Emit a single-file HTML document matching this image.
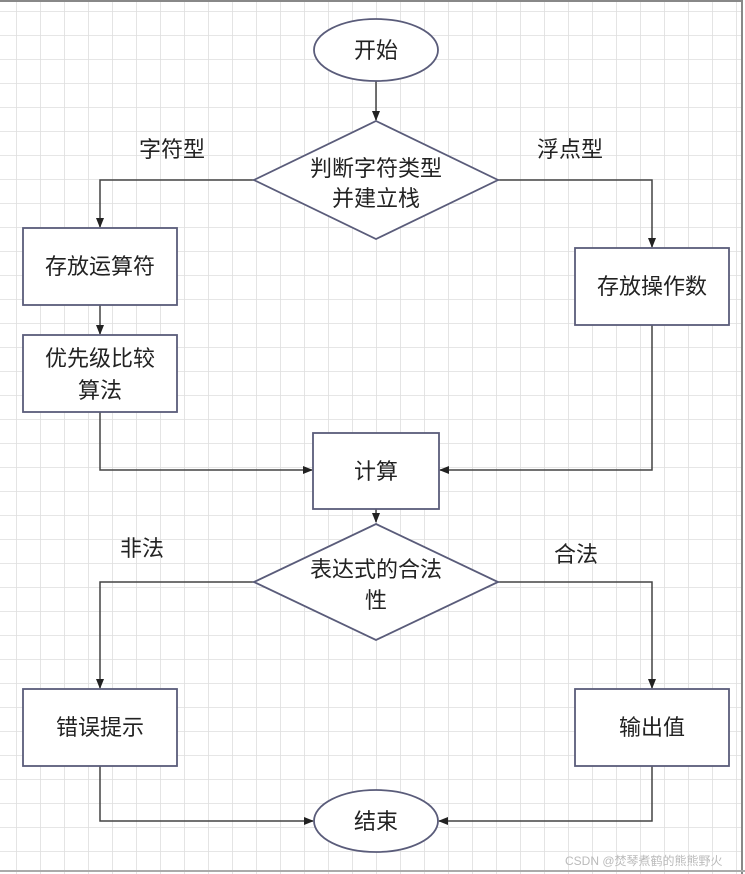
<!DOCTYPE html>
<html><head><meta charset="utf-8"><style>
html,body{margin:0;padding:0;background:#fff;}
svg{display:block;}
text{font-family:"Liberation Sans","Noto Sans CJK SC",sans-serif;font-size:22px;fill:#222;}
</style></head><body>
<svg width="745" height="874" viewBox="0 0 745 874" xmlns="http://www.w3.org/2000/svg">
<defs>
<pattern id="g" x="-7" y="-12" width="24" height="24" patternUnits="userSpaceOnUse">
<path d="M24 0 V24 M0 24 H24" stroke="#dedede" stroke-width="1.6" fill="none"/>
</pattern>
<marker id="a" markerWidth="10" markerHeight="10" refX="9" refY="5" orient="auto" markerUnits="userSpaceOnUse">
<path d="M0 1 L10 5 L0 9 Z" fill="#222"/>
</marker>
</defs>
<rect width="745" height="874" fill="url(#g)"/>
<rect x="0" y="0" width="745" height="2" fill="#888"/>
<rect x="742" y="0" width="3" height="874" fill="#fff"/>
<rect x="741" y="0" width="2" height="874" fill="#888"/>
<rect x="0" y="870" width="745" height="2" fill="#aaa"/>
<g stroke="#444" stroke-width="1.5" fill="none">
<path d="M376 81 V120" marker-end="url(#a)"/>
<path d="M254 180 H100 V227" marker-end="url(#a)"/>
<path d="M498 180 H652 V247" marker-end="url(#a)"/>
<path d="M100 305 V334" marker-end="url(#a)"/>
<path d="M100 412 V470 H312" marker-end="url(#a)"/>
<path d="M652 325 V470 H440" marker-end="url(#a)"/>
<path d="M376 509 V522" marker-end="url(#a)"/>
<path d="M254 582 H100 V688" marker-end="url(#a)"/>
<path d="M498 582 H652 V688" marker-end="url(#a)"/>
<path d="M100 766 V821 H313" marker-end="url(#a)"/>
<path d="M652 766 V821 H439" marker-end="url(#a)"/>
</g>
<g stroke="#5a5c7a" stroke-width="1.8" fill="#fff">
<ellipse cx="376" cy="50" rx="62" ry="31"/>
<polygon points="376,121 498,180 376,239 254,180"/>
<rect x="23" y="228" width="154" height="77"/>
<rect x="23" y="335" width="154" height="77"/>
<rect x="575" y="248" width="154" height="77"/>
<rect x="313" y="433" width="126" height="76"/>
<polygon points="376,524 498,582 376,640 254,582"/>
<rect x="23" y="689" width="154" height="77"/>
<rect x="575" y="689" width="154" height="77"/>
<ellipse cx="376" cy="821" rx="62" ry="31"/>
</g>
<g text-anchor="middle">
<text x="376" y="58">开始</text>
<text x="376" y="176">判断字符类型</text>
<text x="376" y="206">并建立栈</text>
<text x="100" y="274">存放运算符</text>
<text x="100" y="366">优先级比较</text>
<text x="100" y="398">算法</text>
<text x="652" y="294">存放操作数</text>
<text x="376" y="479">计算</text>
<text x="376" y="577">表达式的合法</text>
<text x="376" y="608">性</text>
<text x="100" y="735">错误提示</text>
<text x="652" y="735">输出值</text>
<text x="376" y="829">结束</text>
<text x="172" y="157">字符型</text>
<text x="570" y="157">浮点型</text>
<text x="142" y="556">非法</text>
<text x="576" y="562">合法</text>
</g>
<text x="565" y="865" style="font-size:12px;fill:#bbb">CSDN @焚琴煮鹤的熊熊野火</text>
</svg>
</body></html>
